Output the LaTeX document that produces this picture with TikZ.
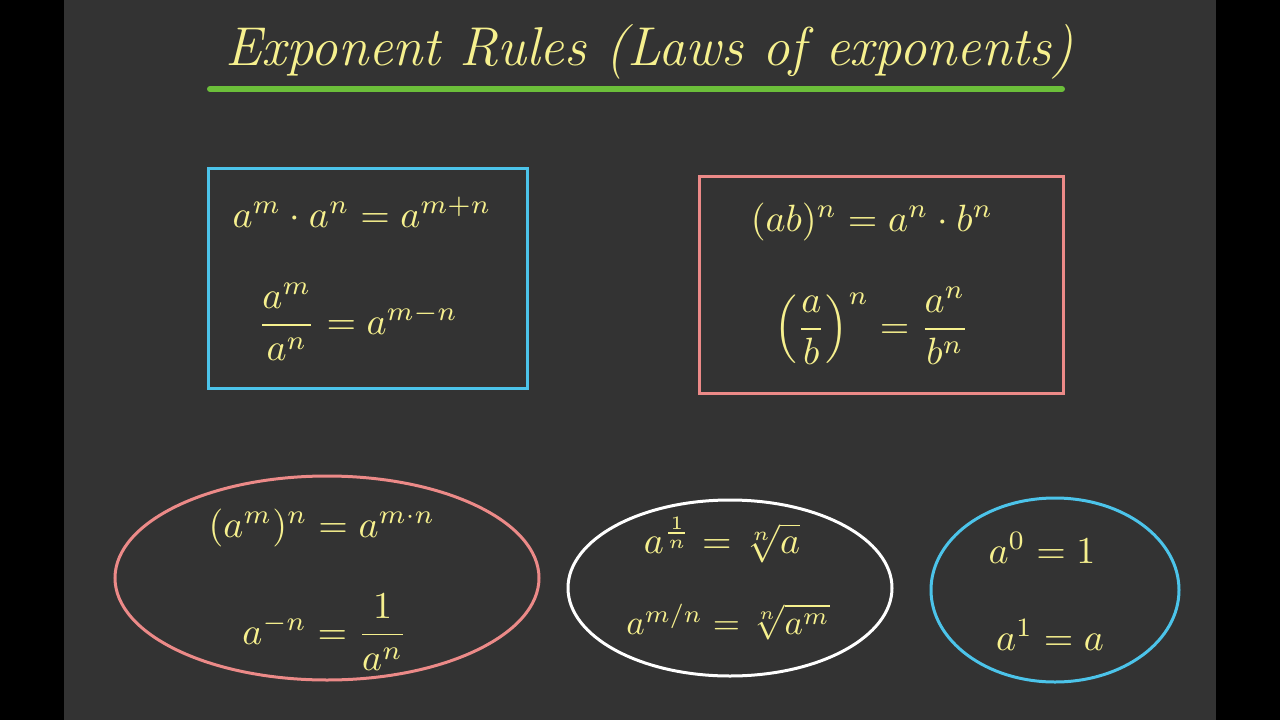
\documentclass[tikz,border=0pt]{standalone}
\usepackage{amsmath}
\usepackage{graphicx}
\definecolor{bg}{HTML}{333333}
\definecolor{yel}{HTML}{F6F08E}
\definecolor{grn}{HTML}{6CBF3A}
\definecolor{blu}{HTML}{4CC4EA}
\definecolor{pnk}{HTML}{EC8A88}
\newcommand{\bigq}[1]{\scalebox{3.8}{#1}}
\tikzset{eq/.style={text=yel,inner sep=0pt},
 box/.style={line width=3pt}}
\begin{document}
\begin{tikzpicture}[x=1pt,y=-1pt]
\useasboundingbox (0,0) rectangle (1280,720);
\fill[black] (0,0) rectangle (1280,720);
\fill[bg] (64,0) rectangle (1216,720);
\node[text=yel] (title) at (649,52) {\scalebox{2.2}{\Huge\itshape Exponent Rules (Laws of exponents)}};
\draw[grn,line width=6pt,line cap=round] (210,89) -- (1062,89);
\draw[box,blu] (208,168) rectangle (527,388);
\node[eq] (e1) at (362,212) {\bigq{$a^m\cdot a^n=a^{m+n}$}};
\node[eq] (e2) at (358,322) {\bigq{$\dfrac{a^m}{a^n}=a^{m-n}$}};
\draw[box,pnk] (699,176) rectangle (1063,393);
\node[eq] (e3) at (872,222) {\bigq{$(ab)^n=a^n\cdot b^n$}};
\node[eq] (e4) at (872,326) {\bigq{$\left(\dfrac{a}{b}\right)^n=\dfrac{a^n}{b^n}$}};
\draw[box,pnk] (327,578) ellipse [x radius=212,y radius=102];
\node[eq] (e5) at (322,528) {\bigq{$(a^m)^n=a^{m\cdot n}$}};
\node[eq] (e6) at (325,632) {\bigq{$a^{-n}=\dfrac{1}{a^n}$}};
\draw[box,white] (730,588) ellipse [x radius=162,y radius=88];
\node[eq] (e7) at (722,540) {\bigq{$a^{\frac{1}{n}}=\sqrt[n]{a}$}};
\node[eq] (e8) at (728,622) {\scalebox{3.5}{$a^{m/n}=\sqrt[n]{a^m}$}};
\draw[box,blu] (1055,590) ellipse [x radius=124,y radius=92];
\node[eq] (e9) at (1042,548) {\bigq{$a^0=1$}};
\node[eq] (e10) at (1050,635) {\bigq{$a^1=a$}};
\end{tikzpicture}
\end{document}
